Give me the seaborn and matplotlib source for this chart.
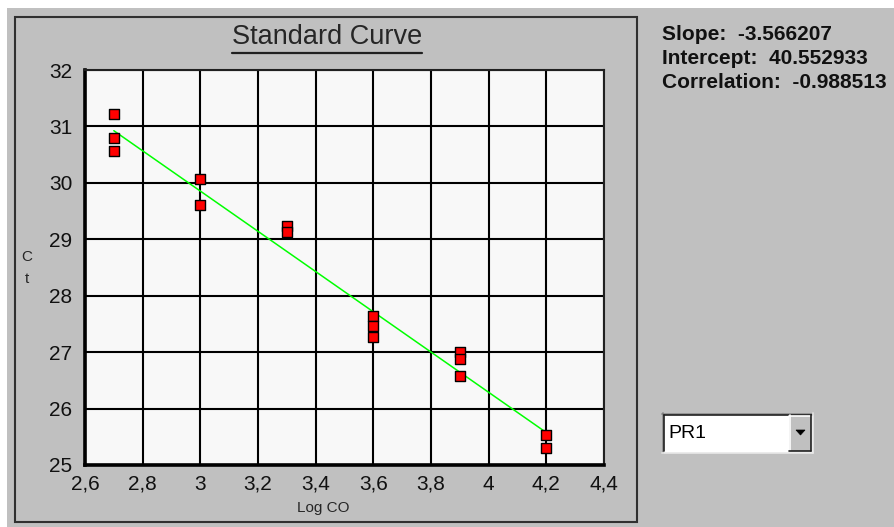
import matplotlib
matplotlib.use("Agg")
import numpy as np
import pandas as pd
import seaborn as sns
import matplotlib.pyplot as plt
from matplotlib.patches import Rectangle, Polygon
from matplotlib.lines import Line2D

# Standard-curve replicates: log of starting quantity vs threshold cycle
log_c0 = [2.7, 2.7, 2.7, 3.0, 3.0, 3.3, 3.3, 3.6, 3.6, 3.6, 3.9, 3.9, 3.9, 4.2, 4.2]
ct = [31.22, 30.79, 30.56, 30.07, 29.60, 29.24, 29.13, 27.64, 27.47, 27.27,
      27.00, 26.87, 26.58, 25.53, 25.30]

# Regression results shown beside the chart
slope = -3.566207
intercept = 40.552933
correlation = -0.988513

x_ticks = [2.6, 2.8, 3.0, 3.2, 3.4, 3.6, 3.8, 4.0, 4.2, 4.4]
x_tick_labels = ["2,6", "2,8", "3", "3,2", "3,4", "3,6", "3,8", "4", "4,2", "4,4"]
y_ticks = [25, 26, 27, 28, 29, 30, 31, 32]
y_tick_labels = ["25", "26", "27", "28", "29", "30", "31", "32"]
selected_target = "PR1"

sns.set_style("white")
plt.rcParams["font.family"] = ["Liberation Sans", "DejaVu Sans"]

W, H = 894, 527
BG = "#C0C0C0"


def fx(px):
    return px / W


def fy(py):
    return 1 - py / H


fig = plt.figure(figsize=(W / 100, H / 100), dpi=100, facecolor=BG)

# window edges
fig.patches.append(Rectangle((0, fy(8)), 1, 8 / H, transform=fig.transFigure,
                             fc="white", ec="none", zorder=0))
fig.patches.append(Rectangle((0, 0), 7 / W, 1, transform=fig.transFigure,
                             fc="white", ec="none", zorder=0))
# chart frame
fig.patches.append(Rectangle((fx(15), fy(522)), (637 - 15) / W, (522 - 17) / H,
                             transform=fig.transFigure, fill=False,
                             ec="#303030", lw=1.5, zorder=1))

ax = fig.add_axes([fx(85), fy(465), (604 - 85) / W, (465 - 70) / H])
ax.set_facecolor("#F8F8F8")

df = pd.DataFrame({"log_c0": log_c0, "ct": ct})
fit_x = np.array([min(log_c0), max(log_c0)])
fit_y = intercept + slope * fit_x

sns.lineplot(x=fit_x, y=fit_y, color="#00FF00", lw=1.1, ax=ax, zorder=3)
sns.scatterplot(data=df, x="log_c0", y="ct", marker="s", s=55, color="#FF0000",
                edgecolor="black", linewidth=1.0, ax=ax, zorder=4)

ax.set_xlim(2.6, 4.4)
ax.set_ylim(25, 32)
ax.set_xticks(x_ticks)
ax.set_xticklabels(x_tick_labels)
ax.set_yticks(y_ticks)
ax.set_yticklabels(y_tick_labels)
ax.set_xlabel("")
ax.set_ylabel("")
ax.grid(True, color="black", lw=1.5, zorder=1)
ax.set_axisbelow(True)
ax.tick_params(length=0, labelsize=15, colors="#111111")
ax.tick_params(axis="y", pad=9)
ax.tick_params(axis="x", pad=7)
for side in ["top", "right"]:
    ax.spines[side].set_color("#202020")
    ax.spines[side].set_linewidth(1.5)
for side in ["left", "bottom"]:
    ax.spines[side].set_color("black")
    ax.spines[side].set_linewidth(2.6)

# axis captions
fig.text(fx(323), fy(508), "Log CO", ha="center", va="center", fontsize=11)
fig.text(fx(27), fy(257), "C", ha="center", va="center", fontsize=11)
fig.text(fx(27), fy(279), "t", ha="center", va="center", fontsize=11)

# underlined title
title = fig.text(fx(327), fy(37), "Standard Curve", ha="center", va="center",
                 fontsize=19.5)
fig.canvas.draw()
bb = title.get_window_extent().transformed(fig.transFigure.inverted())
fig.lines.append(Line2D([bb.x0, bb.x1], [fy(52.5), fy(52.5)],
                        transform=fig.transFigure, color="#202020", lw=1.6))

# regression statistics
stat_font = dict(fontweight="bold", fontsize=15, va="center", ha="left",
                 color="#111111")
fig.text(fx(662), fy(35), f"Slope:  {slope:.6f}", **stat_font)
fig.text(fx(662), fy(58), f"Intercept:  {intercept:.6f}", **stat_font)
fig.text(fx(662), fy(82), f"Correlation:  {correlation:.6f}", **stat_font)

# target selector box
fig.patches.append(Rectangle((fx(662), fy(453)), 151 / W, 40 / H,
                             transform=fig.transFigure, fc="white", ec="none"))
for xs, ys, c in [([662, 813], [413.5, 413.5], "#808080"),
                  ([662.5, 662.5], [413, 453], "#808080"),
                  ([664, 812], [415, 415], "#202020"),
                  ([664, 664], [415, 451], "#202020"),
                  ([662, 813], [452.5, 452.5], "#E8E8E8"),
                  ([812.5, 812.5], [413, 453], "#E8E8E8")]:
    fig.lines.append(Line2D([fx(v) for v in xs], [fy(v) for v in ys],
                            transform=fig.transFigure, color=c, lw=1.2))
fig.patches.append(Rectangle((fx(789), fy(451)), 22 / W, 36 / H,
                             transform=fig.transFigure, fc=BG, ec="none"))
for xs, ys, c in [([789, 811], [415.5, 415.5], "white"),
                  ([789.5, 789.5], [415, 451], "white"),
                  ([789, 811], [450.5, 450.5], "#202020"),
                  ([810.5, 810.5], [415, 451], "#202020")]:
    fig.lines.append(Line2D([fx(v) for v in xs], [fy(v) for v in ys],
                            transform=fig.transFigure, color=c, lw=1.2))
fig.patches.append(Polygon([(fx(796), fy(430)), (fx(805), fy(430)), (fx(800.5), fy(435))],
                           closed=True, transform=fig.transFigure, fc="black", ec="black",
                           lw=0.5))
fig.text(fx(668), fy(433), selected_target, ha="left", va="center", fontsize=14,
         color="black")

fig.savefig("out.png", dpi=100, facecolor=BG)
